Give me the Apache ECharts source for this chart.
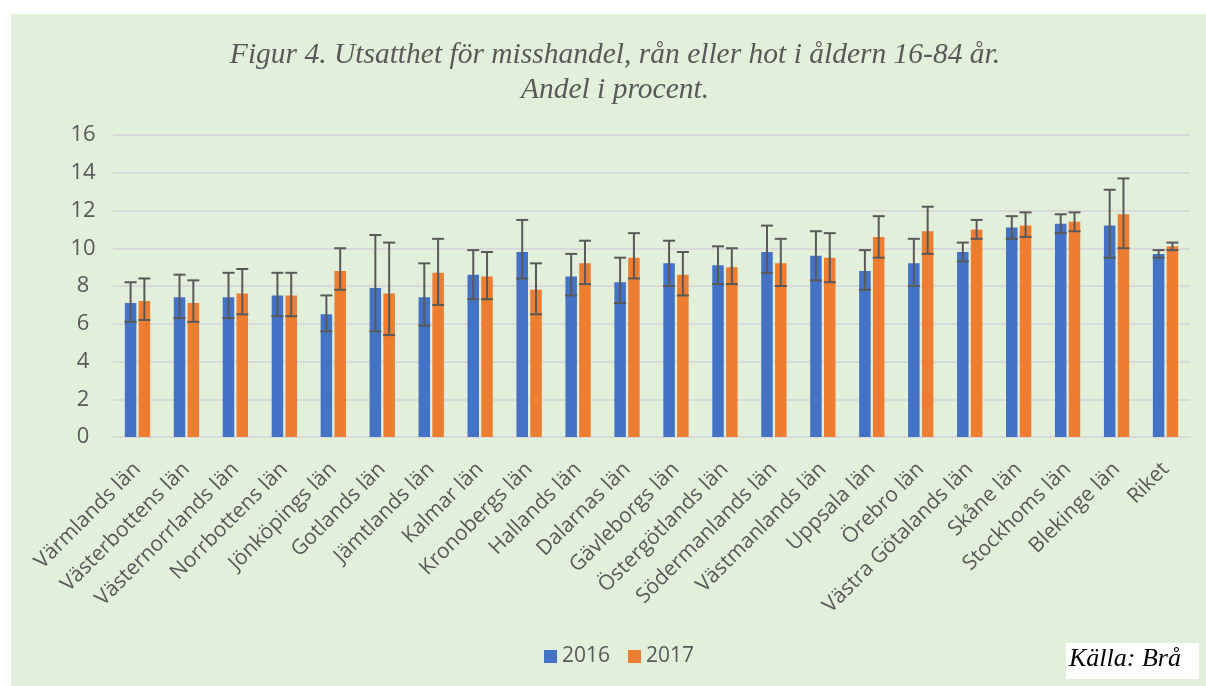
<!DOCTYPE html>
<html>
<head>
<meta charset="utf-8">
<script src="https://cdn.jsdelivr.net/npm/echarts@6/dist/echarts.min.js"></script>
<style>
html,body{margin:0;padding:0;background:#fff;}
#main{width:1206px;height:686px;}
</style>
</head>
<body>
<div id="main"></div>
<script>
// categories (län)
var lanNames = ['Värmlands län','Västerbottens län','Västernorrlands län','Norrbottens län','Jönköpings län','Gotlands län','Jämtlands län','Kalmar län','Kronobergs län','Hallands län','Dalarnas län','Gävleborgs län','Östergötlands län','Södermanlands län','Västmanlands län','Uppsala län','Örebro län','Västra Götalands län','Skåne län','Stockhoms län','Blekinge län','Riket'];
// andel i procent
var val2016 = [7.1, 7.4, 7.4, 7.5, 6.5, 7.9, 7.4, 8.6, 9.8, 8.5, 8.2, 9.2, 9.1, 9.8, 9.6, 8.8, 9.2, 9.8, 11.1, 11.3, 11.2, 9.7];
var val2017 = [7.2, 7.1, 7.6, 7.5, 8.8, 7.6, 8.7, 8.5, 7.8, 9.2, 9.5, 8.6, 9.0, 9.2, 9.5, 10.6, 10.9, 11.0, 11.2, 11.4, 11.8, 10.1];
// konfidensintervall (låg / hög)
var low2016 = [6.1, 6.3, 6.3, 6.4, 5.6, 5.6, 5.9, 7.3, 8.4, 7.5, 7.1, 8.0, 8.1, 8.7, 8.3, 7.8, 8.0, 9.3, 10.5, 10.8, 9.5, 9.5];
var high2016 = [8.2, 8.6, 8.7, 8.7, 7.5, 10.7, 9.2, 9.9, 11.5, 9.7, 9.5, 10.4, 10.1, 11.2, 10.9, 9.9, 10.5, 10.3, 11.7, 11.8, 13.1, 9.9];
var low2017 = [6.2, 6.1, 6.5, 6.4, 7.8, 5.4, 7.0, 7.3, 6.5, 8.1, 8.4, 7.5, 8.1, 8.0, 8.2, 9.5, 9.7, 10.5, 10.6, 10.9, 10.0, 9.9];
var high2017 = [8.4, 8.3, 8.9, 8.7, 10.0, 10.3, 10.5, 9.8, 9.2, 10.4, 10.8, 9.8, 10.0, 10.5, 10.8, 11.7, 12.2, 11.5, 11.9, 11.9, 13.7, 10.3];
var yTicks = [0, 2, 4, 6, 8, 10, 12, 14, 16];

var myChart = echarts.init(document.getElementById('main'));

// felstaplar som custom series
function errBars(offset){
	return function(params, api){
		var lo = api.coord([api.value(0), api.value(1)]);
		var hi = api.coord([api.value(0), api.value(2)]);
		var cx = lo[0] + offset;
		var st = {stroke:'#595959', lineWidth:2};
		return {
			type:'group',
			children:[
				{type:'line', shape:{x1:cx, y1:hi[1], x2:cx, y2:lo[1]}, style:st},
				{type:'line', shape:{x1:cx-6, y1:hi[1], x2:cx+6, y2:hi[1]}, style:st},
				{type:'line', shape:{x1:cx-6, y1:lo[1], x2:cx+6, y2:lo[1]}, style:st}
			]
		};
	};
}
function errData(lo, hi){
	var arr = [];
	lo.forEach(function(v, i){ arr.push([i, v, hi[i]]); });
	return arr;
}

var option = {
	backgroundColor:'#ffffff',
	animation:false,
	graphic:[
		{type:'rect', z:-100, shape:{x:11, y:14, width:1195, height:672}, style:{fill:'#E2EFDA'}},
		// rubrik
		{type:'text', z:50, x:615, y:38, style:{
			text:'Figur 4. Utsatthet för misshandel, rån eller hot i åldern 16-84 år.\nAndel i procent.',
			align:'center', verticalAlign:'top', lineHeight:35,
			font:'italic 29.5px "Liberation Serif"', fill:'#595959'}},
		{type:'rect', z:100, shape:{x:1066, y:643, width:133, height:36}, style:{fill:'#ffffff'}},
		{type:'text', z:101, left:1069, top:646, style:{text:'Källa: Brå', font:'italic 26px "Liberation Serif"', fill:'#000000'}}
	],
	legend:{
		data:['2016','2017'],
		left:539,
		top:641,
		icon:'rect',
		itemWidth:13,
		itemHeight:13,
		itemGap:18,
		textStyle:{fontFamily:'Open Sans', fontSize:21, color:'#595959'}
	},
	grid:{left:113, right:16, top:135, bottom:249},
	xAxis:{
		type:'category',
		data:lanNames,
		axisLine:{lineStyle:{color:'#D9D9D9', width:2}},
		axisTick:{show:false},
		axisLabel:{rotate:45, interval:0, margin:29, fontFamily:'Open Sans', fontSize:21, color:'#595959'}
	},
	yAxis:{
		type:'value',
		min:yTicks[0],
		max:yTicks[yTicks.length-1],
		interval:2,
		axisLine:{show:false},
		axisTick:{show:false},
		splitLine:{lineStyle:{color:'#D9D9D9', width:2}},
		axisLabel:{margin:30, align:'center', fontFamily:'Open Sans', fontSize:22, color:'#595959'}
	},
	series:[
		{name:'2016', type:'bar', data:val2016, barWidth:11.5, barGap:'20%', itemStyle:{color:'#4472C4'}},
		{name:'2017', type:'bar', data:val2017, barWidth:11.5, barGap:'20%', itemStyle:{color:'#ED7D31'}},
		{type:'custom', renderItem:errBars(-6.9), data:errData(low2016, high2016), encode:{x:0, y:[1,2]}, z:10},
		{type:'custom', renderItem:errBars(6.9), data:errData(low2017, high2017), encode:{x:0, y:[1,2]}, z:10}
	]
};

myChart.setOption(option);
</script>
</body>
</html>
